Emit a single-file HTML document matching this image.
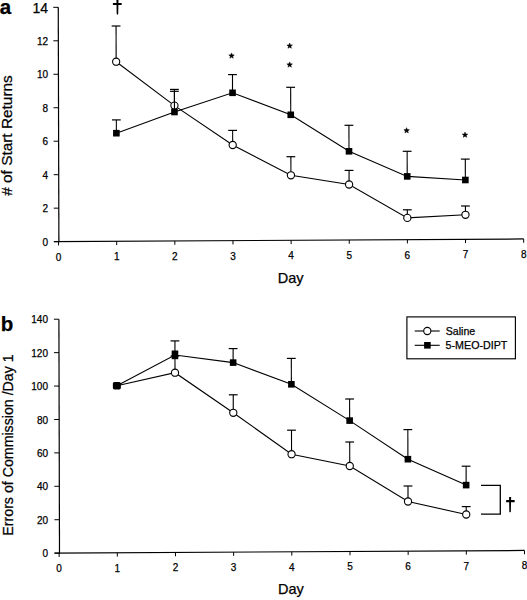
<!DOCTYPE html>
<html><head><meta charset="utf-8"><style>
html,body{margin:0;padding:0;background:#fff;}
svg{display:block;}
text{font-family:"Liberation Sans",sans-serif;fill:#000;stroke:#000;stroke-width:0.25px;}
</style></head><body>
<svg width="527" height="600" viewBox="0 0 527 600">
<rect width="527" height="600" fill="#fff"/>
<line x1="53.90" y1="241.63" x2="523.68" y2="238.97" stroke="#000" stroke-width="1.2"/>
<line x1="58.25" y1="7.30" x2="58.90" y2="242.20" stroke="#000" stroke-width="1.2"/>
<line x1="58.90" y1="241.63" x2="53.90" y2="241.63" stroke="#000" stroke-width="1.0"/>
<line x1="58.81" y1="208.16" x2="53.81" y2="208.16" stroke="#000" stroke-width="1.0"/>
<line x1="58.71" y1="174.69" x2="53.71" y2="174.69" stroke="#000" stroke-width="1.0"/>
<line x1="58.62" y1="141.21" x2="53.62" y2="141.21" stroke="#000" stroke-width="1.0"/>
<line x1="58.53" y1="107.74" x2="53.53" y2="107.74" stroke="#000" stroke-width="1.0"/>
<line x1="58.44" y1="74.27" x2="53.44" y2="74.27" stroke="#000" stroke-width="1.0"/>
<line x1="58.34" y1="40.80" x2="53.34" y2="40.80" stroke="#000" stroke-width="1.0"/>
<line x1="58.25" y1="7.33" x2="53.25" y2="7.33" stroke="#000" stroke-width="1.0"/>
<line x1="58.56" y1="241.63" x2="58.56" y2="245.43" stroke="#000" stroke-width="1.0"/>
<line x1="116.70" y1="241.30" x2="116.70" y2="245.10" stroke="#000" stroke-width="1.0"/>
<line x1="174.84" y1="240.96" x2="174.84" y2="244.76" stroke="#000" stroke-width="1.0"/>
<line x1="232.98" y1="240.63" x2="232.98" y2="244.43" stroke="#000" stroke-width="1.0"/>
<line x1="291.12" y1="240.30" x2="291.12" y2="244.10" stroke="#000" stroke-width="1.0"/>
<line x1="349.26" y1="239.97" x2="349.26" y2="243.77" stroke="#000" stroke-width="1.0"/>
<line x1="407.40" y1="239.63" x2="407.40" y2="243.43" stroke="#000" stroke-width="1.0"/>
<line x1="465.54" y1="239.30" x2="465.54" y2="243.10" stroke="#000" stroke-width="1.0"/>
<line x1="523.68" y1="238.97" x2="523.68" y2="242.77" stroke="#000" stroke-width="1.0"/>
<line x1="54.50" y1="553.13" x2="524.49" y2="550.47" stroke="#000" stroke-width="1.2"/>
<line x1="58.90" y1="319.20" x2="59.50" y2="553.70" stroke="#000" stroke-width="1.2"/>
<line x1="59.50" y1="553.13" x2="54.50" y2="553.13" stroke="#000" stroke-width="1.0"/>
<line x1="59.41" y1="519.72" x2="54.41" y2="519.72" stroke="#000" stroke-width="1.0"/>
<line x1="59.33" y1="486.30" x2="54.33" y2="486.30" stroke="#000" stroke-width="1.0"/>
<line x1="59.24" y1="452.89" x2="54.24" y2="452.89" stroke="#000" stroke-width="1.0"/>
<line x1="59.16" y1="419.47" x2="54.16" y2="419.47" stroke="#000" stroke-width="1.0"/>
<line x1="59.07" y1="386.06" x2="54.07" y2="386.06" stroke="#000" stroke-width="1.0"/>
<line x1="58.99" y1="352.65" x2="53.99" y2="352.65" stroke="#000" stroke-width="1.0"/>
<line x1="58.90" y1="319.23" x2="53.90" y2="319.23" stroke="#000" stroke-width="1.0"/>
<line x1="59.13" y1="553.13" x2="59.13" y2="556.93" stroke="#000" stroke-width="1.0"/>
<line x1="117.30" y1="552.80" x2="117.30" y2="556.60" stroke="#000" stroke-width="1.0"/>
<line x1="175.47" y1="552.46" x2="175.47" y2="556.26" stroke="#000" stroke-width="1.0"/>
<line x1="233.64" y1="552.13" x2="233.64" y2="555.93" stroke="#000" stroke-width="1.0"/>
<line x1="291.81" y1="551.80" x2="291.81" y2="555.60" stroke="#000" stroke-width="1.0"/>
<line x1="349.98" y1="551.47" x2="349.98" y2="555.26" stroke="#000" stroke-width="1.0"/>
<line x1="408.15" y1="551.13" x2="408.15" y2="554.93" stroke="#000" stroke-width="1.0"/>
<line x1="466.32" y1="550.80" x2="466.32" y2="554.60" stroke="#000" stroke-width="1.0"/>
<line x1="524.49" y1="550.47" x2="524.49" y2="554.27" stroke="#000" stroke-width="1.0"/>
<text x="48.00" y="245.71" font-size="10" text-anchor="end" font-weight="normal" >0</text>
<text x="48.00" y="212.24" font-size="10" text-anchor="end" font-weight="normal" >2</text>
<text x="48.00" y="178.77" font-size="10" text-anchor="end" font-weight="normal" >4</text>
<text x="48.00" y="145.29" font-size="10" text-anchor="end" font-weight="normal" >6</text>
<text x="48.00" y="111.82" font-size="10" text-anchor="end" font-weight="normal" >8</text>
<text x="48.00" y="78.35" font-size="10" text-anchor="end" font-weight="normal" >10</text>
<text x="48.00" y="44.88" font-size="10" text-anchor="end" font-weight="normal" >12</text>
<text x="48.00" y="12.84" font-size="14" text-anchor="end" font-weight="normal" >14</text>
<text x="48.00" y="557.21" font-size="10" text-anchor="end" font-weight="normal" >0</text>
<text x="48.00" y="523.80" font-size="10" text-anchor="end" font-weight="normal" >20</text>
<text x="48.00" y="490.38" font-size="10" text-anchor="end" font-weight="normal" >40</text>
<text x="48.00" y="456.97" font-size="10" text-anchor="end" font-weight="normal" >60</text>
<text x="48.00" y="423.55" font-size="10" text-anchor="end" font-weight="normal" >80</text>
<text x="48.00" y="390.14" font-size="10" text-anchor="end" font-weight="normal" >100</text>
<text x="48.00" y="356.73" font-size="10" text-anchor="end" font-weight="normal" >120</text>
<text x="48.00" y="323.31" font-size="10" text-anchor="end" font-weight="normal" >140</text>
<text x="58.56" y="260.63" font-size="10" text-anchor="middle" font-weight="normal" >0</text>
<text x="116.70" y="260.30" font-size="10" text-anchor="middle" font-weight="normal" >1</text>
<text x="174.84" y="259.96" font-size="10" text-anchor="middle" font-weight="normal" >2</text>
<text x="232.98" y="259.63" font-size="10" text-anchor="middle" font-weight="normal" >3</text>
<text x="291.12" y="259.30" font-size="10" text-anchor="middle" font-weight="normal" >4</text>
<text x="349.26" y="258.97" font-size="10" text-anchor="middle" font-weight="normal" >5</text>
<text x="407.40" y="258.63" font-size="10" text-anchor="middle" font-weight="normal" >6</text>
<text x="465.54" y="258.30" font-size="10" text-anchor="middle" font-weight="normal" >7</text>
<text x="523.68" y="257.97" font-size="10" text-anchor="middle" font-weight="normal" >8</text>
<text x="59.13" y="572.13" font-size="10" text-anchor="middle" font-weight="normal" >0</text>
<text x="117.30" y="571.80" font-size="10" text-anchor="middle" font-weight="normal" >1</text>
<text x="175.47" y="571.46" font-size="10" text-anchor="middle" font-weight="normal" >2</text>
<text x="233.64" y="571.13" font-size="10" text-anchor="middle" font-weight="normal" >3</text>
<text x="291.81" y="570.80" font-size="10" text-anchor="middle" font-weight="normal" >4</text>
<text x="349.98" y="570.47" font-size="10" text-anchor="middle" font-weight="normal" >5</text>
<text x="408.15" y="570.13" font-size="10" text-anchor="middle" font-weight="normal" >6</text>
<text x="466.32" y="569.80" font-size="10" text-anchor="middle" font-weight="normal" >7</text>
<text x="524.49" y="569.47" font-size="10" text-anchor="middle" font-weight="normal" >8</text>
<text x="290.70" y="283.10" font-size="14.5" text-anchor="middle" font-weight="normal" >Day</text>
<text x="290.90" y="593.50" font-size="14.5" text-anchor="middle" font-weight="normal" >Day</text>
<text transform="translate(12.4,135.5) rotate(-90)" font-size="15.4" text-anchor="middle">&#35; of Start Returns</text>
<text transform="translate(13.0,445) rotate(-90)" font-size="14.2" text-anchor="middle">Errors of Commission /Day 1</text>
<text x="-0.20" y="14.30" font-size="20.5" text-anchor="start" font-weight="bold" >a</text>
<text x="0.80" y="331.20" font-size="20.5" text-anchor="start" font-weight="bold" >b</text>
<polyline fill="none" stroke="#000" stroke-width="1.1" points="116.16,61.70 174.44,105.60 232.69,145.00 290.93,175.30 349.09,184.50 407.34,217.90 465.47,214.80"/>
<line x1="116.16" y1="61.70" x2="116.06" y2="26.00" stroke="#000" stroke-width="1.1"/>
<line x1="111.66" y1="26.00" x2="120.46" y2="26.00" stroke="#000" stroke-width="1.2"/>
<line x1="174.44" y1="105.60" x2="174.39" y2="89.40" stroke="#000" stroke-width="1.1"/>
<line x1="169.99" y1="89.40" x2="178.79" y2="89.40" stroke="#000" stroke-width="1.2"/>
<line x1="232.69" y1="145.00" x2="232.65" y2="130.40" stroke="#000" stroke-width="1.1"/>
<line x1="228.25" y1="130.40" x2="237.05" y2="130.40" stroke="#000" stroke-width="1.2"/>
<line x1="290.93" y1="175.30" x2="290.87" y2="156.70" stroke="#000" stroke-width="1.1"/>
<line x1="286.47" y1="156.70" x2="295.27" y2="156.70" stroke="#000" stroke-width="1.2"/>
<line x1="349.09" y1="184.50" x2="349.05" y2="170.40" stroke="#000" stroke-width="1.1"/>
<line x1="344.65" y1="170.40" x2="353.45" y2="170.40" stroke="#000" stroke-width="1.2"/>
<line x1="407.34" y1="217.90" x2="407.31" y2="209.80" stroke="#000" stroke-width="1.1"/>
<line x1="402.91" y1="209.80" x2="411.71" y2="209.80" stroke="#000" stroke-width="1.2"/>
<line x1="465.47" y1="214.80" x2="465.44" y2="206.00" stroke="#000" stroke-width="1.1"/>
<line x1="461.04" y1="206.00" x2="469.84" y2="206.00" stroke="#000" stroke-width="1.2"/>
<circle cx="116.16" cy="61.70" r="3.6" fill="#fff" stroke="#000" stroke-width="1.1"/>
<circle cx="174.44" cy="105.60" r="3.6" fill="#fff" stroke="#000" stroke-width="1.1"/>
<circle cx="232.69" cy="145.00" r="3.6" fill="#fff" stroke="#000" stroke-width="1.1"/>
<circle cx="290.93" cy="175.30" r="3.6" fill="#fff" stroke="#000" stroke-width="1.1"/>
<circle cx="349.09" cy="184.50" r="3.6" fill="#fff" stroke="#000" stroke-width="1.1"/>
<circle cx="407.34" cy="217.90" r="3.6" fill="#fff" stroke="#000" stroke-width="1.1"/>
<circle cx="465.47" cy="214.80" r="3.6" fill="#fff" stroke="#000" stroke-width="1.1"/>
<polyline fill="none" stroke="#000" stroke-width="1.1" points="116.38,133.20 174.45,112.00 232.54,92.80 290.75,114.80 349.00,151.30 407.21,176.40 465.36,180.00"/>
<line x1="116.38" y1="133.20" x2="116.34" y2="119.90" stroke="#000" stroke-width="1.1"/>
<line x1="111.94" y1="119.90" x2="120.74" y2="119.90" stroke="#000" stroke-width="1.2"/>
<line x1="174.45" y1="112.00" x2="174.39" y2="91.30" stroke="#000" stroke-width="1.1"/>
<line x1="169.99" y1="91.30" x2="178.79" y2="91.30" stroke="#000" stroke-width="1.2"/>
<line x1="232.54" y1="92.80" x2="232.48" y2="74.60" stroke="#000" stroke-width="1.1"/>
<line x1="228.08" y1="74.60" x2="236.88" y2="74.60" stroke="#000" stroke-width="1.2"/>
<line x1="290.75" y1="114.80" x2="290.66" y2="87.30" stroke="#000" stroke-width="1.1"/>
<line x1="286.26" y1="87.30" x2="295.06" y2="87.30" stroke="#000" stroke-width="1.2"/>
<line x1="349.00" y1="151.30" x2="348.92" y2="125.30" stroke="#000" stroke-width="1.1"/>
<line x1="344.52" y1="125.30" x2="353.32" y2="125.30" stroke="#000" stroke-width="1.2"/>
<line x1="407.21" y1="176.40" x2="407.14" y2="151.30" stroke="#000" stroke-width="1.1"/>
<line x1="402.74" y1="151.30" x2="411.54" y2="151.30" stroke="#000" stroke-width="1.2"/>
<line x1="465.36" y1="180.00" x2="465.30" y2="159.10" stroke="#000" stroke-width="1.1"/>
<line x1="460.90" y1="159.10" x2="469.70" y2="159.10" stroke="#000" stroke-width="1.2"/>
<rect x="113.08" y="129.90" width="6.6" height="6.6" fill="#000"/>
<rect x="171.15" y="108.70" width="6.6" height="6.6" fill="#000"/>
<rect x="229.24" y="89.50" width="6.6" height="6.6" fill="#000"/>
<rect x="287.45" y="111.50" width="6.6" height="6.6" fill="#000"/>
<rect x="345.70" y="148.00" width="6.6" height="6.6" fill="#000"/>
<rect x="403.91" y="173.10" width="6.6" height="6.6" fill="#000"/>
<rect x="462.06" y="176.70" width="6.6" height="6.6" fill="#000"/>
<polyline fill="none" stroke="#000" stroke-width="1.1" points="116.87,385.70 175.01,372.70 233.28,412.80 291.56,454.20 349.76,466.00 408.02,501.50 466.23,514.50"/>
<line x1="175.01" y1="372.70" x2="174.96" y2="356.00" stroke="#000" stroke-width="1.1"/>
<line x1="170.56" y1="356.00" x2="179.36" y2="356.00" stroke="#000" stroke-width="1.2"/>
<line x1="233.28" y1="412.80" x2="233.24" y2="394.80" stroke="#000" stroke-width="1.1"/>
<line x1="228.84" y1="394.80" x2="237.64" y2="394.80" stroke="#000" stroke-width="1.2"/>
<line x1="291.56" y1="454.20" x2="291.50" y2="430.20" stroke="#000" stroke-width="1.1"/>
<line x1="287.10" y1="430.20" x2="295.90" y2="430.20" stroke="#000" stroke-width="1.2"/>
<line x1="349.76" y1="466.00" x2="349.70" y2="442.00" stroke="#000" stroke-width="1.1"/>
<line x1="345.30" y1="442.00" x2="354.10" y2="442.00" stroke="#000" stroke-width="1.2"/>
<line x1="408.02" y1="501.50" x2="407.98" y2="486.00" stroke="#000" stroke-width="1.1"/>
<line x1="403.58" y1="486.00" x2="412.38" y2="486.00" stroke="#000" stroke-width="1.2"/>
<line x1="466.23" y1="514.50" x2="466.21" y2="506.60" stroke="#000" stroke-width="1.1"/>
<line x1="461.81" y1="506.60" x2="470.61" y2="506.60" stroke="#000" stroke-width="1.2"/>
<circle cx="175.01" cy="372.70" r="3.6" fill="#fff" stroke="#000" stroke-width="1.1"/>
<circle cx="233.28" cy="412.80" r="3.6" fill="#fff" stroke="#000" stroke-width="1.1"/>
<circle cx="291.56" cy="454.20" r="3.6" fill="#fff" stroke="#000" stroke-width="1.1"/>
<circle cx="349.76" cy="466.00" r="3.6" fill="#fff" stroke="#000" stroke-width="1.1"/>
<circle cx="408.02" cy="501.50" r="3.6" fill="#fff" stroke="#000" stroke-width="1.1"/>
<circle cx="466.23" cy="514.50" r="3.6" fill="#fff" stroke="#000" stroke-width="1.1"/>
<polyline fill="none" stroke="#000" stroke-width="1.1" points="116.87,385.70 174.96,355.00 233.15,362.60 291.38,384.30 349.64,420.60 407.91,459.20 466.15,485.10"/>
<line x1="174.96" y1="355.00" x2="174.93" y2="340.90" stroke="#000" stroke-width="1.1"/>
<line x1="170.53" y1="340.90" x2="179.33" y2="340.90" stroke="#000" stroke-width="1.2"/>
<line x1="233.15" y1="362.60" x2="233.12" y2="348.60" stroke="#000" stroke-width="1.1"/>
<line x1="228.72" y1="348.60" x2="237.52" y2="348.60" stroke="#000" stroke-width="1.2"/>
<line x1="291.38" y1="384.30" x2="291.31" y2="358.40" stroke="#000" stroke-width="1.1"/>
<line x1="286.91" y1="358.40" x2="295.71" y2="358.40" stroke="#000" stroke-width="1.2"/>
<line x1="349.64" y1="420.60" x2="349.59" y2="399.00" stroke="#000" stroke-width="1.1"/>
<line x1="345.19" y1="399.00" x2="353.99" y2="399.00" stroke="#000" stroke-width="1.2"/>
<line x1="407.91" y1="459.20" x2="407.84" y2="429.60" stroke="#000" stroke-width="1.1"/>
<line x1="403.44" y1="429.60" x2="412.24" y2="429.60" stroke="#000" stroke-width="1.2"/>
<line x1="466.15" y1="485.10" x2="466.10" y2="466.20" stroke="#000" stroke-width="1.1"/>
<line x1="461.70" y1="466.20" x2="470.50" y2="466.20" stroke="#000" stroke-width="1.2"/>
<rect x="112.87" y="382.00" width="8.0" height="7.4" rx="1.6" fill="#000"/>
<rect x="171.66" y="350.5" width="6.6" height="8.7" fill="#000"/>
<rect x="229.85" y="359.30" width="6.6" height="6.6" fill="#000"/>
<rect x="288.08" y="381.00" width="6.6" height="6.6" fill="#000"/>
<rect x="346.34" y="417.30" width="6.6" height="6.6" fill="#000"/>
<rect x="404.61" y="455.90" width="6.6" height="6.6" fill="#000"/>
<rect x="462.85" y="481.80" width="6.6" height="6.6" fill="#000"/>
<polygon fill="#000" stroke="#000" stroke-width="0.5" stroke-linejoin="round" points="231.55,52.95 232.28,54.84 234.31,54.95 232.74,56.24 233.25,58.20 231.55,57.10 229.85,58.20 230.36,56.24 228.79,54.95 230.82,54.84"/>
<polygon fill="#000" stroke="#000" stroke-width="0.5" stroke-linejoin="round" points="289.65,43.00 290.38,44.89 292.41,45.00 290.84,46.29 291.35,48.25 289.65,47.15 287.95,48.25 288.46,46.29 286.89,45.00 288.92,44.89"/>
<polygon fill="#000" stroke="#000" stroke-width="0.5" stroke-linejoin="round" points="289.65,61.90 290.38,63.79 292.41,63.90 290.84,65.19 291.35,67.15 289.65,66.05 287.95,67.15 288.46,65.19 286.89,63.90 288.92,63.79"/>
<polygon fill="#000" stroke="#000" stroke-width="0.5" stroke-linejoin="round" points="406.60,127.70 407.33,129.59 409.36,129.70 407.79,130.99 408.30,132.95 406.60,131.85 404.90,132.95 405.41,130.99 403.84,129.70 405.87,129.59"/>
<polygon fill="#000" stroke="#000" stroke-width="0.5" stroke-linejoin="round" points="465.00,132.10 465.73,133.99 467.76,134.10 466.19,135.39 466.70,137.35 465.00,136.25 463.30,137.35 463.81,135.39 462.24,134.10 464.27,133.99"/>
<path d="M116.40,-1.00 L118.50,-1.00 L118.21,14.00 Q117.45,15.10 116.69,14.00 Z" fill="#000"/>
<rect x="112.90" y="2.95" width="8.80" height="2.10" rx="0.5" fill="#000"/>
<path d="M509.05,497.00 L511.15,497.00 L510.86,511.80 Q510.10,512.90 509.34,511.80 Z" fill="#000"/>
<rect x="506.10" y="500.05" width="8.60" height="2.10" rx="0.5" fill="#000"/>
<polyline fill="none" stroke="#000" stroke-width="1.3" points="481,485.4 500.3,485.4 500.3,514.2 481,514.2"/>
<rect x="406.9" y="316.9" width="108.5" height="41.9" fill="none" stroke="#000" stroke-width="1.15"/>
<line x1="414.70" y1="331.00" x2="439.70" y2="331.00" stroke="#000" stroke-width="1.1"/>
<circle cx="427.3" cy="331.0" r="3.6" fill="#fff" stroke="#000" stroke-width="1.1"/>
<line x1="414.70" y1="345.30" x2="439.70" y2="345.30" stroke="#000" stroke-width="1.1"/>
<rect x="424.10" y="342.00" width="6.6" height="6.6" fill="#000"/>
<text x="445.80" y="334.80" font-size="10.6" text-anchor="start" font-weight="normal" >Saline</text>
<text x="445.60" y="349.00" font-size="10.7" text-anchor="start" font-weight="normal" >5-MEO-DIPT</text>
</svg>
</body></html>
